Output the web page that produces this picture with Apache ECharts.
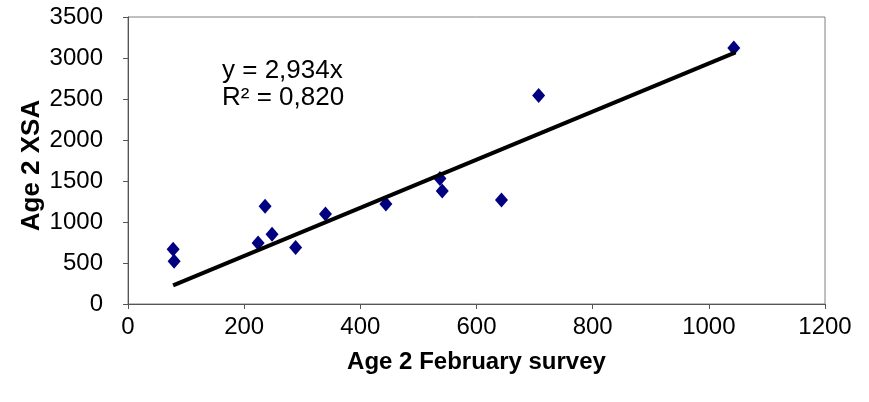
<!DOCTYPE html>
<html><head><meta charset="utf-8">
<script src="https://cdn.jsdelivr.net/npm/echarts@6/dist/echarts.min.js"></script>
<style>html,body{margin:0;padding:0;background:#fff}#c{width:869px;height:402px}</style>
</head><body><div id="c"></div>
<script>
const surveyX = [77.7, 79.4, 224, 236, 248, 288.6, 340, 444, 537, 541, 643, 707, 1043];
const xsaY    = [667, 520, 744, 1193, 851, 688, 1099, 1221, 1530, 1377, 1267, 2543, 3123];
const trendSlope = 2.934;
const trendR2 = "0,820";
const trendRange = [77.7, 1046];
const xTicks = [0, 200, 400, 600, 800, 1000, 1200];
const yTicks = [0, 500, 1000, 1500, 2000, 2500, 3000, 3500];

const points = surveyX.map((x, i) => [x, xsaY[i]]);
const trend = trendRange.map(x => [x, trendSlope * x]);
const font = "'Liberation Sans', Arial, sans-serif";

const chart = echarts.init(document.getElementById('c'));
chart.setOption({
  animation: false,
  backgroundColor: '#fff',
  grid: { left: 128, right: 44, top: 17, bottom: 98, show: true, borderColor: '#808080', borderWidth: 1 },
  xAxis: {
    type: 'value', min: xTicks[0], max: xTicks[xTicks.length - 1], interval: 200,
    name: 'Age 2 February survey', nameLocation: 'middle', nameGap: 46,
    nameTextStyle: { fontFamily: font, fontSize: 24, fontWeight: 'bold', color: '#000' },
    axisLine: { lineStyle: { color: '#555', width: 1 } },
    axisTick: { show: true, length: 5, lineStyle: { color: '#555' } },
    axisLabel: { fontFamily: font, fontSize: 24, color: '#000', margin: 11, formatter: v => String(v) },
    splitLine: { show: false }
  },
  yAxis: {
    type: 'value', min: yTicks[0], max: yTicks[yTicks.length - 1], interval: 500,
    name: 'Age 2 XSA', nameLocation: 'middle', nameGap: 83, nameRotate: 90, nameMoveOverlap: false,
    nameTextStyle: { fontFamily: font, fontSize: 26, fontWeight: 'bold', color: '#000', padding: [0, 10, 0, 0] },
    axisLine: { show: true, lineStyle: { color: '#555', width: 1 } },
    axisTick: { show: true, length: 5, lineStyle: { color: '#555' } },
    axisLabel: { fontFamily: font, fontSize: 24, color: '#000', margin: 25, formatter: v => String(v) },
    splitLine: { show: false }
  },
  graphic: [{
    type: 'text', left: 222, top: 57,
    style: { text: 'y = ' + String(trendSlope).replace('.', ',') + 'x\nR² = ' + trendR2,
             font: '26px ' + font, fill: '#000', lineHeight: 27 }
  }],
  series: [
    { type: 'line', data: trend, symbol: 'none', lineStyle: { color: '#000', width: 4 }, z: 3 },
    { type: 'scatter', data: points, symbol: 'diamond', symbolSize: [13, 15],
      itemStyle: { color: '#000080', opacity: 1 }, z: 2 }
  ]
});
</script></body></html>
